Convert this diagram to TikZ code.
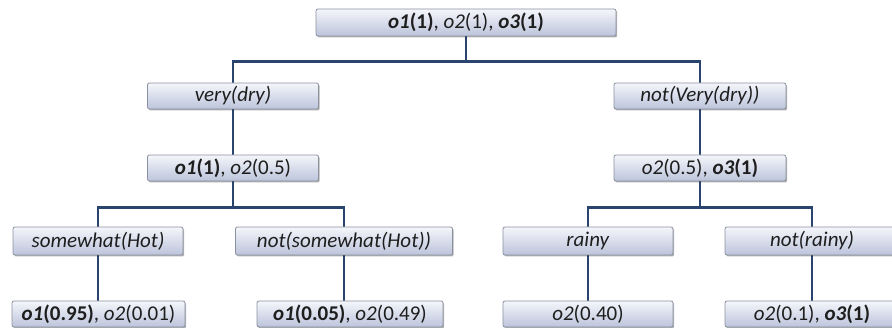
\documentclass[tikz,border=0pt]{standalone}
\usepackage{fontspec}
\setmainfont{Carlito}
\usetikzlibrary{shadows,backgrounds}
\definecolor{wire}{HTML}{2A4470}
\definecolor{boxtop}{HTML}{F5F6FB}
\definecolor{boxbot}{HTML}{BCC4DB}
\definecolor{boxline}{HTML}{8A90A0}
\definecolor{ink}{HTML}{1E1E1E}
\newcommand{\ob}[2]{\textbf{\textit{#1}(#2)}}
\newcommand{\on}[2]{\textit{#1}(#2)}
\begin{document}
\begin{tikzpicture}[x=1pt,y=-1pt,
  tbox/.style={draw=boxline, line width=0.8pt, rounded corners=2pt,
    top color=boxtop, bottom color=boxbot, text=ink,
    inner sep=0pt, minimum height=27pt,
    font=\fontsize{21}{23}\selectfont,
    drop shadow={shadow xshift=1.2pt, shadow yshift=-1.5pt, fill=black, opacity=0.3}},
  conn/.style={draw=wire, line width=2.6pt}]
\useasboundingbox (0,0) rectangle (892,328);

% level 1
\node[tbox, minimum width=300pt] (root) at (466,22.5) {\ob{o1}{1}, \on{o2}{1}, \ob{o3}{1}};
% level 2
\node[tbox, minimum width=171pt, minimum height=26pt] (vd) at (233,96) {\textit{very(dry)}};
\node[tbox, minimum width=172pt, minimum height=26pt] (nvd) at (700,96) {\textit{not(Very(dry))}};
% level 3
\node[tbox, minimum width=171pt, minimum height=26pt] (n1) at (233,168) {\ob{o1}{1}, \on{o2}{0.5}};
\node[tbox, minimum width=172pt, minimum height=26pt] (n2) at (700,168) {\on{o2}{0.5}, \ob{o3}{1}};
% level 4
\node[tbox, minimum width=170pt, minimum height=28pt] (sh) at (98,241) {\textit{somewhat(Hot)}};
\node[tbox, minimum width=217pt, minimum height=28pt] (nsh) at (344,241) {\textit{not(somewhat(Hot))}};
\node[tbox, minimum width=170pt, minimum height=28pt] (rn) at (588,241) {\textit{rainy}};
\node[tbox, minimum width=174pt, minimum height=28pt] (nrn) at (812,241) {\textit{not(rainy)}};
% leaves
\node[tbox, minimum width=173pt, minimum height=26pt] (l1) at (98.5,314) {\ob{o1}{0.95}, \on{o2}{0.01}};
\node[tbox, minimum width=186pt, minimum height=26pt] (l2) at (350,314) {\ob{o1}{0.05}, \on{o2}{0.49}};
\node[tbox, minimum width=170pt, minimum height=26pt] (l3) at (588,314) {\on{o2}{0.40}};
\node[tbox, minimum width=174pt, minimum height=26pt] (l4) at (812,314) {\on{o2}{0.1}, \ob{o3}{1}};

% tree connectors, drawn behind the boxes
\begin{scope}[on background layer]
  \draw[conn] (root.south) -- ++(0,25) -| (vd.north);
  \draw[conn] (root.south) -- ++(0,25) -| (nvd.north);
  \draw[conn] (vd.south) -- (n1.north);
  \draw[conn] (nvd.south) -- (n2.north);
  \draw[conn] (n1.south) -- ++(0,26) -| (sh.north);
  \draw[conn] (n1.south) -- ++(0,26) -| (nsh.north);
  \draw[conn] (n2.south) -- ++(0,26) -| (rn.north);
  \draw[conn] (n2.south) -- ++(0,26) -| (nrn.north);
  \draw[conn] (sh.south) -- (sh.south |- l1.north);
  \draw[conn] (nsh.south) -- (nsh.south |- l2.north);
  \draw[conn] (rn.south) -- (l3.north);
  \draw[conn] (nrn.south) -- (l4.north);
\end{scope}
\end{tikzpicture}
\end{document}
